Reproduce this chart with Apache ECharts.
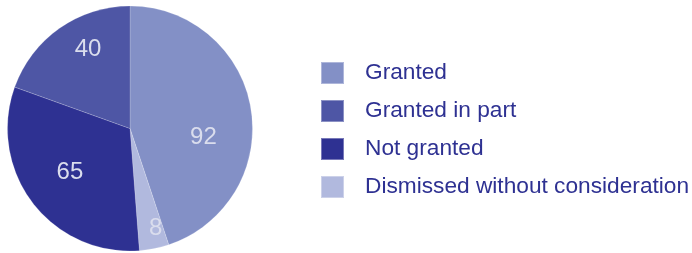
<!DOCTYPE html>
<html lang="en">
<head>
    <meta charset="UTF-8">
    <title>Decisions</title>
    <script src="https://cdn.jsdelivr.net/npm/echarts@6/dist/echarts.min.js"></script>
    <style>
        html, body { margin: 0; padding: 0; background: #fff; }
        #main { width: 692px; height: 253px; }
    </style>
</head>
<body>
<div id="main"></div>
<script type="text/javascript">
    // data, in the clockwise order of the slices (starting at 12 o'clock)
    var categories = ['Granted', 'Dismissed without consideration', 'Not granted', 'Granted in part'];
    var values = [92, 8, 65, 40];
    var colors = ['#8390c6', '#b1b9de', '#2e3192', '#4e56a5'];
    // legend reads top to bottom in this order
    var legendOrder = ['Granted', 'Granted in part', 'Not granted', 'Dismissed without consideration'];

    // nudges for the value labels (the source places them off the default radius)
    var labelOffsets = [[10, 19], [13, 37], [-9, 5], [-5, -27]];

    var myChart = echarts.init(document.getElementById('main'));

    var pieData = categories.map(function (name, i) {
        return {
            name: name,
            value: values[i],
            itemStyle: { color: colors[i] },
            label: { offset: labelOffsets[i] }
        };
    });

    var option = {
        animation: false,
        legend: {
            orient: 'vertical',
            left: 315,
            top: 56,
            itemWidth: 23,
            itemHeight: 22,
            itemGap: 14,
            icon: 'rect',
            data: legendOrder,
            selectedMode: false,
            textStyle: {
                color: '#2e3192',
                fontFamily: 'Liberation Sans, Arial, sans-serif',
                fontSize: 22.7,
                lineHeight: 22,
                padding: [0, 0, 0, 16]
            }
        },
        series: [{
            type: 'pie',
            center: [130, 128.5],
            radius: 122.5,
            startAngle: 90,
            clockwise: true,
            silent: true,
            itemStyle: { borderColor: 'rgba(255,255,255,0.35)', borderWidth: 0.5 },
            label: {
                show: true,
                position: 'inside',
                formatter: '{c}',
                color: '#dadded',
                fontFamily: 'Liberation Sans, Arial, sans-serif',
                fontSize: 24
            },
            labelLine: { show: false },
            data: pieData
        }]
    };
    myChart.setOption(option);
</script>
</body>
</html>
